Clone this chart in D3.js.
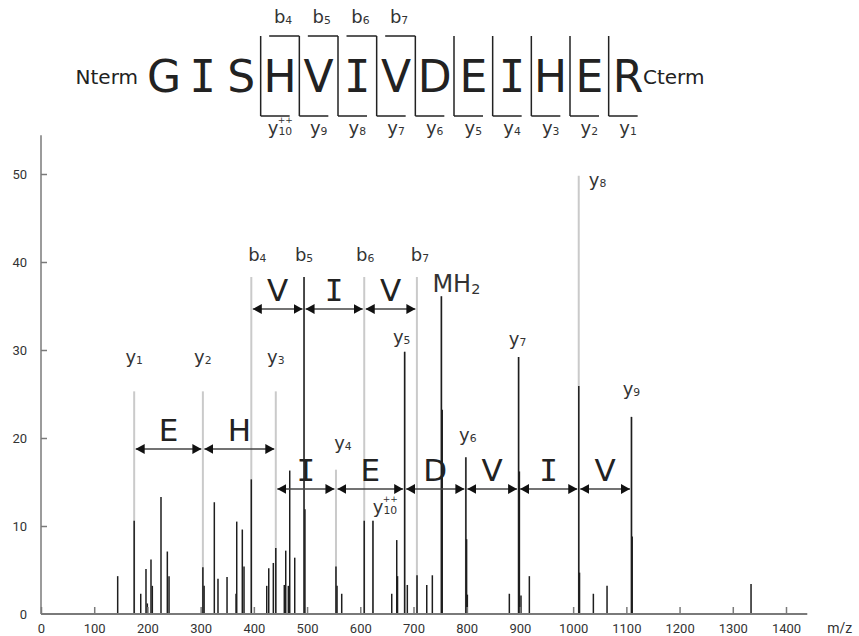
<!DOCTYPE html>
<html>
<head>
  <meta charset="UTF-8">
  <title>Spectrum GISHVIVDEIHER</title>
  <script src="https://d3js.org/d3.v7.min.js"></script>
  <style>
    body { margin: 0; background: #fff; }
    svg { display: block; }
    .tick text { font-family: "Liberation Sans Narrow", Roboto, sans-serif; font-size: 13px; fill: #333; }
  </style>
</head>
<body>
  <svg></svg>
<script>
  let width = 859,
    height = 636;

  // peptide sequence and fragment cut sites (after residue n)
  const residues = ["G", "I", "S", "H", "V", "I", "V", "D", "E", "I", "H", "E", "R"];
  const bCuts = [4, 5, 6, 7];
  const bNums = ["4", "5", "6", "7"];
  const yCuts = [3, 4, 5, 6, 7, 8, 9, 10, 11, 12];
  const yNums = ["10", "9", "8", "7", "6", "5", "4", "3", "2", "1"];

  // annotated ions: name, m/z, height of the marker line
  const ionNames = ["y1", "y2", "y3", "b4", "b5", "b6", "b7", "y4", "y5", "y6", "y7", "y8", "y9", "y10++", "MH2"];
  const ionMz = [175.1, 304.2, 441.2, 395.2, 494.3, 607.4, 706.4, 554.3, 683.4, 798.4, 897.5, 1010.5, 1109.6, 623.8, 752.4];
  const ionHeight = [25.3, 25.3, 25.3, 38.3, 38.3, 38.3, 38.3, 16.4, 29.8, 17.8, 29.2, 49.8, 22.4, 10.6, 36.1];

  // raw spectrum peaks
  const peakMz = [144.1, 175.1, 187.4, 197.3, 199.8, 206.7, 209.2, 225.5, 237.4, 240.6,
    304.2, 306.5, 325.7, 332.6, 349.6, 366.5, 367.8, 378.3, 381.5, 395.2,
    424.2, 428.0, 436.6, 441.2, 457.2, 459.9, 464.8, 467.4, 476.8, 494.3,
    496.0, 554.3, 556.3, 565.1, 607.4, 623.8, 659.1, 668.5, 670.0, 683.4,
    688.4, 706.6, 724.9, 735.4, 752.4, 754.0, 798.4, 799.8, 801.2, 880.1,
    897.5, 899.0, 902.0, 917.7, 1010.6, 1012.0, 1038.0, 1063.7, 1109.6, 1111.0,
    1334.3];
  const peakInt = [4.3, 10.6, 2.3, 5.1, 1.2, 6.2, 3.2, 13.3, 7.1, 4.3,
    5.3, 3.2, 12.7, 4.0, 4.2, 2.3, 10.5, 9.6, 5.4, 15.3,
    3.2, 5.2, 5.8, 7.5, 3.3, 7.2, 3.2, 16.3, 6.4, 38.3,
    11.9, 5.4, 3.2, 2.3, 10.6, 10.6, 2.3, 8.4, 4.3, 29.8,
    3.3, 4.4, 3.3, 4.4, 36.1, 23.2, 17.8, 8.5, 2.2, 2.3,
    29.2, 16.2, 2.1, 4.3, 25.9, 4.7, 2.3, 3.2, 22.4, 8.8,
    3.4];

  // residue ladders: from ion, to ion, residue letter
  const ladderFrom = ["y1", "y2", "b4", "b5", "b6", "y3", "y4", "y5", "y6", "y7", "y8"];
  const ladderTo = ["y2", "y3", "b5", "b6", "b7", "y4", "y5", "y6", "y7", "y8", "y9"];
  const ladderAA = ["E", "H", "V", "I", "V", "I", "E", "D", "V", "I", "V"];

  const xTicks = d3.range(0, 1401, 100);
  const yTicks = [0, 10, 20, 30, 40, 50];

  let svg = d3.select("svg")
    .attr("width", width)
    .attr("height", height)
    .attr("viewBox", "0 0 " + width + " " + height);

  const sans = "'DejaVu Sans', Verdana, sans-serif";
  // Verdana-like serif capital I
  const letterFont = l => l == "I" ? "'DejaVu Sans Mono', monospace" : sans;

  svg.append("defs").append("marker")
    .attr("id", "arr")
    .attr("viewBox", "0 0 9 10")
    .attr("refX", 9).attr("refY", 5)
    .attr("markerWidth", 9).attr("markerHeight", 10)
    .attr("markerUnits", "userSpaceOnUse")
    .attr("orient", "auto-start-reverse")
    .append("path")
    .attr("d", "M0,0 L9,5 L0,10 Z")
    .attr("fill", "#111");

  // label with subscript (and optional superscript over the subscript)
  function ionLabel(parent, base, sub, sup, size, x, y, anchor) {
    let g = parent.append("g");
    let t = g.append("text")
      .attr("font-family", sans)
      .attr("font-size", size)
      .attr("fill", "#333");
    t.append("tspan").text(base);
    t.append("tspan").attr("font-size", size * 0.6).attr("dy", size * 0.06).text(sub);
    if (sup) {
      let n = base.length;
      let a = t.node().getStartPositionOfChar(n).x;
      let b = t.node().getEndPositionOfChar(n + sub.length - 1).x;
      g.append("text")
        .attr("x", (a + b) / 2)
        .attr("y", -size * 0.62)
        .attr("text-anchor", "middle")
        .attr("font-family", sans)
        .attr("font-size", size * 0.5)
        .attr("fill", "#333")
        .text(sup);
    }
    let w = t.node().getComputedTextLength();
    let dx = anchor == "start" ? 0 : -w / 2;
    g.attr("transform", "translate(" + (x + dx) + "," + y + ")");
    return g;
  }

  function splitIon(name) {
    if (name == "MH2") return ["MH", "2", null];
    let m = name.match(/^([a-z])(\d+)(\+*)$/);
    return [m[1], m[2], m[3] || null];
  }

  // ---------- peptide map at the top ----------
  const rx = d3.scaleLinear().domain([0, 12]).range([164, 628]);
  const step = rx(1) - rx(0);
  const topY = 36, botY = 116;

  let seq = svg.append("g").attr("id", "sequence");

  seq.append("text")
    .attr("x", rx(0) - 26).attr("y", 84)
    .attr("text-anchor", "end")
    .attr("font-family", sans).attr("font-size", 20).attr("fill", "#222")
    .text("Nterm");
  seq.append("text")
    .attr("x", rx(12) + 15).attr("y", 84)
    .attr("font-family", sans).attr("font-size", 20).attr("fill", "#222")
    .text("Cterm");

  seq.selectAll(".aa")
    .data(residues)
    .enter()
    .append("text")
    .attr("class", "aa")
    .attr("x", (d, i) => rx(i))
    .attr("y", 92)
    .attr("text-anchor", "middle")
    .attr("font-family", d => letterFont(d))
    .attr("font-size", 44)
    .attr("fill", "#222")
    .text(d => d);

  // separators at every y cut
  seq.selectAll(".sep")
    .data(yCuts)
    .enter()
    .append("line")
    .attr("x1", d => rx(d - 0.5)).attr("x2", d => rx(d - 0.5))
    .attr("y1", topY).attr("y2", botY)
    .attr("stroke", "#222").attr("stroke-width", 1.5);

  seq.selectAll(".bbar")
    .data(bCuts)
    .enter()
    .append("line")
    .attr("x1", d => rx(d - 0.5) - step * 0.78).attr("x2", d => rx(d - 0.5))
    .attr("y1", topY).attr("y2", topY)
    .attr("stroke", "#222").attr("stroke-width", 1.5);

  seq.selectAll(".ybar")
    .data(yCuts)
    .enter()
    .append("line")
    .attr("x1", d => rx(d - 0.5)).attr("x2", d => rx(d - 0.5) + step * 0.75)
    .attr("y1", botY).attr("y2", botY)
    .attr("stroke", "#222").attr("stroke-width", 1.5);

  bCuts.forEach((c, i) => {
    ionLabel(seq, "b", bNums[i], null, 18, rx(c - 0.5) - step * 0.42, 23);
  });
  yCuts.forEach((c, i) => {
    ionLabel(seq, "y", yNums[i], i == 0 ? "++" : null, 18, rx(c - 0.5) + step * 0.5, 134);
  });

  // ---------- spectrum ----------
  const x = d3.scaleLinear().domain([0, 1400]).range([41, 786]);
  const y = d3.scaleLinear().domain([0, 50]).range([614, 174]);

  // annotation marker lines
  svg.append("g")
    .attr("id", "ions")
    .selectAll("line")
    .data(ionNames)
    .enter()
    .append("line")
    .attr("x1", (d, i) => x(ionMz[i])).attr("x2", (d, i) => x(ionMz[i]))
    .attr("y1", y(0)).attr("y2", (d, i) => y(ionHeight[i]))
    .attr("stroke", "#cacaca").attr("stroke-width", 2);

  // raw peaks
  svg.append("g")
    .attr("id", "peaks")
    .selectAll("line")
    .data(peakMz)
    .enter()
    .append("line")
    .attr("x1", d => x(d)).attr("x2", d => x(d))
    .attr("y1", y(0)).attr("y2", (d, i) => y(peakInt[i]))
    .attr("stroke", "#1e1e1e").attr("stroke-width", 1.5);

  // axes
  let yAxis = d3.axisLeft(y).tickValues(yTicks).tickSizeInner(-6).tickSizeOuter(0).tickPadding(14);
  let xAxis = d3.axisBottom(x).tickValues(xTicks).tickFormat(d3.format("d"))
    .tickSizeInner(-7).tickSizeOuter(0).tickPadding(10);

  let gy = svg.append("g").attr("transform", "translate(" + x(0) + ",0)").call(yAxis);
  let gx = svg.append("g").attr("transform", "translate(0," + y(0) + ")").call(xAxis);
  gy.select(".domain").remove();
  gx.select(".domain").remove();
  gy.selectAll(".tick line").attr("stroke", "#7a7a7a").attr("stroke-width", 1.5);
  gx.selectAll(".tick line").attr("stroke", "#7a7a7a").attr("stroke-width", 1.5);
  gy.selectAll(".tick").filter(d => d == 0).select("line").remove();

  svg.append("line")
    .attr("x1", x(0)).attr("x2", x(0))
    .attr("y1", y(0)).attr("y2", y(54.4))
    .attr("stroke", "#7a7a7a").attr("stroke-width", 1.5);
  svg.append("line")
    .attr("x1", x(0)).attr("x2", x(1440))
    .attr("y1", y(0)).attr("y2", y(0))
    .attr("stroke", "#7a7a7a").attr("stroke-width", 2);

  svg.append("text")
    .attr("x", x(1440) + 20).attr("y", 633)
    .attr("font-family", "'Liberation Sans Narrow', Roboto, sans-serif")
    .attr("font-size", 14).attr("fill", "#333")
    .text("m/z");

  // ladder arrows
  const rowY = { y1: 449, y2: 449, b4: 309, b5: 309, b6: 309 };
  let mzOf = n => ionMz[ionNames.indexOf(n)];
  let ladders = svg.append("g").attr("id", "ladders");
  ladderFrom.forEach((f, i) => {
    let x1 = x(mzOf(f)) + 1.5, x2 = x(mzOf(ladderTo[i])) - 1.5;
    let ry = rowY[f] || 489;
    ladders.append("line")
      .attr("x1", x1).attr("x2", x2)
      .attr("y1", ry).attr("y2", ry)
      .attr("stroke", "#444").attr("stroke-width", 1.5)
      .attr("marker-start", "url(#arr)")
      .attr("marker-end", "url(#arr)");
    ladders.append("text")
      .attr("x", (x1 + x2) / 2).attr("y", ry - 8)
      .attr("text-anchor", "middle")
      .attr("font-family", letterFont(ladderAA[i]))
      .attr("font-size", 31)
      .attr("fill", "#222")
      .text(ladderAA[i]);
  });

  // ion labels in the spectrum
  const labelPos = {
    y1: [0, 28], y2: [0, 28], y3: [0, 28],
    b4: [6, 16], b5: [0, 16], b6: [1, 16], b7: [3, 16],
    y4: [7, 21], y5: [-3, 9], y6: [2, 16], y7: [-1, 12],
    y8: [10, -10, "start"], y9: [0, 22], "y10++": [12, 8], MH2: [-9, 4, "start"]
  };
  let labels = svg.append("g").attr("id", "ion-labels");
  ionNames.forEach((n, i) => {
    let p = labelPos[n];
    let parts = splitIon(n);
    ionLabel(labels, parts[0], parts[1], parts[2], n == "MH2" ? 24 : 18,
      x(ionMz[i]) + p[0], y(ionHeight[i]) - p[1], p[2]);
  });
</script>
</body>
</html>
